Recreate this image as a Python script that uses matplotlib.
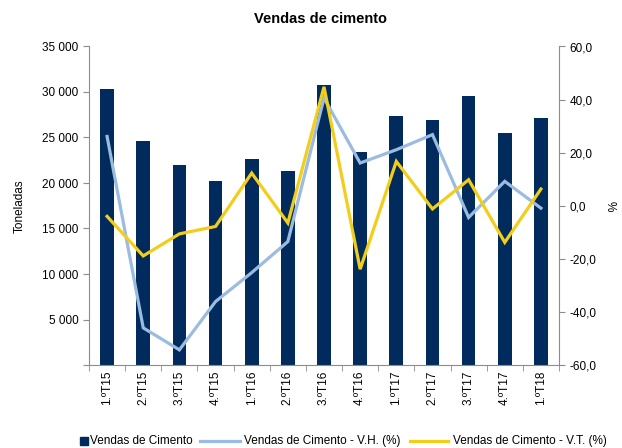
import matplotlib
matplotlib.use("Agg")
import matplotlib.pyplot as plt
from matplotlib.lines import Line2D
from matplotlib.patches import Rectangle
import numpy as np

plt.rcParams['font.family'] = ['Liberation Sans', 'DejaVu Sans']

trimestres = ["1.ºT15", "2.ºT15", "3.ºT15", "4.ºT15", "1.ºT16", "2.ºT16", "3.ºT16",
              "4.ºT16", "1.ºT17", "2.ºT17", "3.ºT17", "4.ºT17", "1.ºT18"]
vendas = [30300, 24600, 22000, 20200, 22600, 21300, 30800,
          23400, 27400, 26900, 29600, 25500, 27100]
var_vh = [26.1, -46.0, -54.3, -36.1, -25.2, -13.5, 40.6,
          16.1, 21.1, 26.8, -4.4, 9.2, -0.9]
var_vt = [-4.0, -18.9, -10.6, -7.8, 12.3, -6.5, 44.8,
          -23.9, 16.7, -1.2, 9.8, -13.8, 6.3]

navy = '#002B5C'
azul = '#9BBBE0'
amarelo = '#F2CE1A'
cinza = '#8C8C8C'

fig = plt.figure(figsize=(6.22, 4.48), dpi=100)
ax = fig.add_axes([89/622, 1-365/448, (559-89)/622, (365-46.5)/448])
ax2 = ax.twinx()

x = np.arange(len(trimestres))
ax.bar(x, vendas, width=0.38, color=navy, zorder=2)
ax2.plot(x, var_vh, color=azul, lw=2.3, solid_joinstyle='miter')
ax2.plot(x, var_vt, color=amarelo, lw=2.3, solid_joinstyle='miter')

ax.set_xlim(-0.5, len(trimestres)-0.5)
ax.set_ylim(0, 35000)
ax.set_yticks(np.arange(0, 35001, 5000))
ax.set_yticklabels(['' if v == 0 else f"{v:,}".replace(',', ' ') for v in range(0, 35001, 5000)])
ax2.set_ylim(-60, 60)
ax2.set_yticks(np.arange(-60, 61, 20))
ax2.set_yticklabels([f"{v:.1f}".replace('.', ',') for v in range(-60, 61, 20)])

ax.set_xticks(x)
ax.set_xticklabels(trimestres, rotation=90, fontsize=8.5)
ax.set_xticks(np.arange(-0.5, len(trimestres), 1), minor=True)
ax.tick_params(axis='x', which='major', length=0, pad=4)
ax.tick_params(axis='x', which='minor', length=4, color=cinza, direction='out')
ax.tick_params(axis='y', labelsize=8.5, length=4, color=cinza)
ax2.tick_params(axis='y', labelsize=8.5, length=4, color=cinza)

for a in (ax, ax2):
    a.spines['top'].set_visible(False)
    for s in ('left', 'right', 'bottom'):
        a.spines[s].set_color(cinza)
ax2.spines['left'].set_visible(False)
ax2.spines['bottom'].set_visible(False)
ax.spines['right'].set_visible(False)

ax.set_ylabel('Toneladas', fontsize=8.5, labelpad=12)
ax2.set_ylabel('%', fontsize=8.5, rotation=-90, labelpad=14)

fig.text(320/622, 1-19/448, 'Vendas de cimento', ha='center', va='center',
         fontsize=10.5, fontweight='bold')

# legenda em baixo
ly = 1 - 441/448
fig.patches.append(Rectangle((80/622, ly-4/448), 8/622, 8/448, color=navy,
                             transform=fig.transFigure, figure=fig))
fig.text(90/622, ly, 'Vendas de Cimento', fontsize=8.5, va='center')
fig.lines.append(Line2D([200/622, 240/622], [ly, ly], color=azul, lw=2.3,
                        transform=fig.transFigure))
fig.text(244/622, ly, 'Vendas de Cimento - V.H. (%)', fontsize=8.5, va='center')
fig.lines.append(Line2D([410/622, 448/622], [ly, ly], color=amarelo, lw=2.3,
                        transform=fig.transFigure))
fig.text(453/622, ly, 'Vendas de Cimento - V.T. (%)', fontsize=8.5, va='center')

fig.savefig('out.png', dpi=100)
